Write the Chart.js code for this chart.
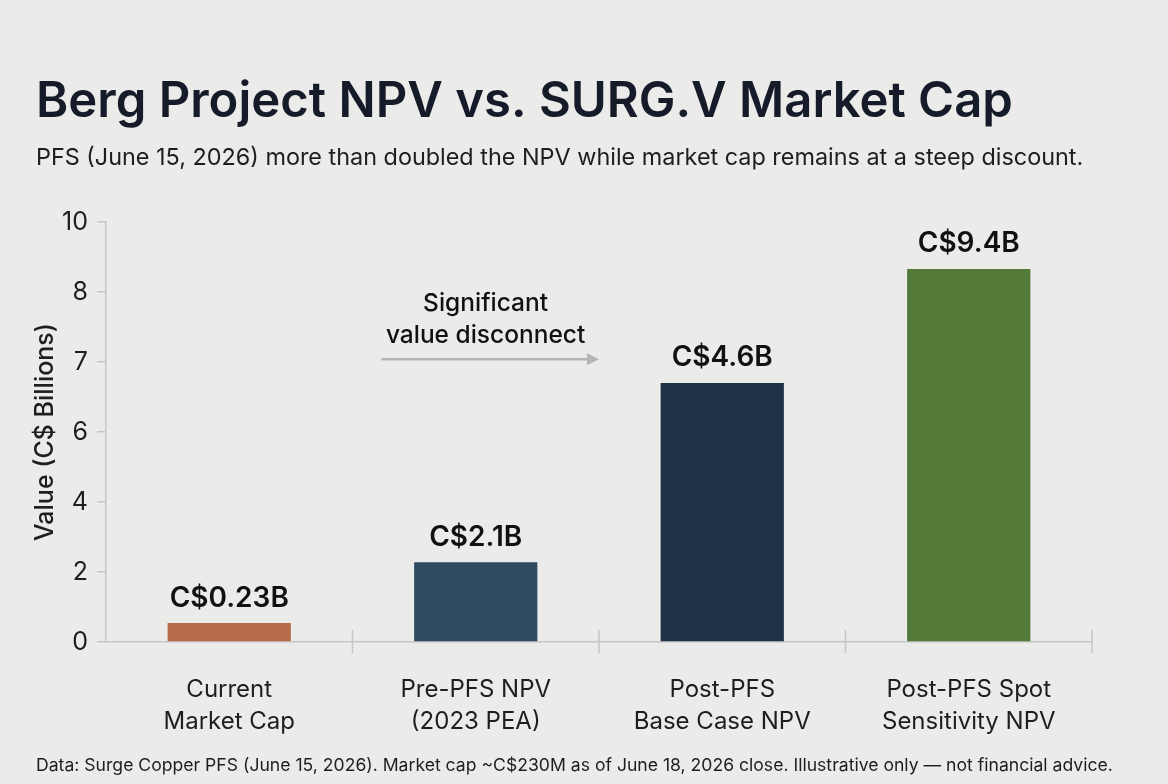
<!DOCTYPE html>
<html>
<head>
<meta charset="utf-8">
<title>Berg Project NPV vs. SURG.V Market Cap</title>
<script src="https://cdn.jsdelivr.net/npm/chart.js@4.4.1/dist/chart.umd.min.js"></script>
<style>
    html, body { margin: 0; padding: 0; background: #ebebea; }
    .chart-container { position: relative; width: 1168px; height: 784px; }
</style>
</head>
<body>
<div class="chart-container"><canvas id="npvChart"></canvas></div>
<script>
// Chart data
const categories = [
    ['Current', 'Market Cap'],
    ['Pre-PFS NPV', '(2023 PEA)'],
    ['Post-PFS', 'Base Case NPV'],
    ['Post-PFS Spot', 'Sensitivity NPV']
];
const valueLabels = ['C$0.23B', 'C$2.1B', 'C$4.6B', 'C$9.4B'];
// bar heights as drawn, in steps of the (unevenly labelled) y axis
const barHeights = [0.27, 1.14, 3.70, 5.33];
const yTickLabels = ['0', '2', '4', '6', '7', '8', '10'];

const titleText = 'Berg Project NPV vs. SURG.V Market Cap';
const subtitleText = 'PFS (June 15, 2026) more than doubled the NPV while market cap remains at a steep discount.';
const footerText = 'Data: Surge Copper PFS (June 15, 2026). Market cap ~C$230M as of June 18, 2026 close. Illustrative only \u2014 not financial advice.';
const noteLines = ['Significant', 'value disconnect'];

const FONT = 'Inter, "Noto Sans", sans-serif';
const AXIS_GREY = '#c6c6c6';

// Title, subtitle and footer text
const headerFooter = {
    id: 'headerFooter',
    beforeDraw(chart) {
        const ctx = chart.ctx;
        ctx.save();
        ctx.textAlign = 'left';
        ctx.textBaseline = 'alphabetic';
        ctx.fillStyle = '#161b2a';
        ctx.font = `600 49px ${FONT}`;
        ctx.fillText(titleText, 36, 117);
        ctx.fillStyle = '#1e1e1e';
        ctx.font = `400 23.4px ${FONT}`;
        ctx.fillText(subtitleText, 36, 165);
        ctx.font = `400 17.6px ${FONT}`;
        ctx.fillText(footerText, 36, 771);
        ctx.restore();
    }
};

// Category separator ticks crossing the x axis
const categoryTicks = {
    id: 'categoryTicks',
    afterDraw(chart) {
        const ctx = chart.ctx;
        const x = chart.scales.x;
        const y0 = chart.chartArea.bottom;
        ctx.save();
        ctx.strokeStyle = AXIS_GREY;
        ctx.lineWidth = 1.5;
        for (let i = 1; i <= categories.length; i++) {
            const px = x.getPixelForValue(i - 0.5);
            ctx.beginPath();
            ctx.moveTo(px, y0 - 12);
            ctx.lineTo(px, y0 + 11);
            ctx.stroke();
        }
        ctx.restore();
    }
};

// Value labels above bars and the annotation arrow
const barAnnotations = {
    id: 'barAnnotations',
    afterDatasetsDraw(chart) {
        const ctx = chart.ctx;
        const meta = chart.getDatasetMeta(0);
        const xs = chart.scales.x;
        const ys = chart.scales.y;
        ctx.save();
        ctx.fillStyle = '#111111';
        ctx.textAlign = 'center';
        ctx.textBaseline = 'middle';
        ctx.font = `600 28px ${FONT}`;
        meta.data.forEach((bar, i) => {
            ctx.fillText(valueLabels[i], bar.x, bar.y - 25);
        });

        ctx.font = `500 24.5px ${FONT}`;
        ctx.fillText(noteLines[0], xs.getPixelForValue(1.04), ys.getPixelForValue(4.84));
        ctx.fillText(noteLines[1], xs.getPixelForValue(1.04), ys.getPixelForValue(4.38));

        const ay = ys.getPixelForValue(4.04);
        const ax1 = xs.getPixelForValue(0.617);
        const ax2 = xs.getPixelForValue(1.5);
        ctx.strokeStyle = '#b5b5b5';
        ctx.fillStyle = '#b5b5b5';
        ctx.lineWidth = 2.5;
        ctx.beginPath();
        ctx.moveTo(ax1, ay);
        ctx.lineTo(ax2 - 10, ay);
        ctx.stroke();
        ctx.beginPath();
        ctx.moveTo(ax2, ay);
        ctx.lineTo(ax2 - 12, ay - 6);
        ctx.lineTo(ax2 - 12, ay + 6);
        ctx.closePath();
        ctx.fill();
        ctx.restore();
    }
};

const ctx = document.getElementById('npvChart').getContext('2d');
new Chart(ctx, {
    type: 'bar',
    data: {
        labels: categories,
        datasets: [{
            data: barHeights,
            backgroundColor: ['#b66b4b', '#2f4b61', '#1f3247', '#537a39'],
            borderWidth: 0,
            barPercentage: 0.5,
            categoryPercentage: 1.0
        }]
    },
    options: {
        responsive: true,
        maintainAspectRatio: false,
        animation: false,
        layout: {
            padding: { top: 222, right: 76, bottom: 42, left: 0 }
        },
        plugins: {
            legend: { display: false },
            tooltip: { enabled: false }
        },
        scales: {
            x: {
                offset: true,
                grid: { display: false, drawTicks: false },
                border: { display: true, color: AXIS_GREY, width: 1.5 },
                ticks: {
                    color: '#1e1e1e',
                    padding: 32,
                    maxRotation: 0,
                    font: { family: FONT, size: 24, lineHeight: 1.34 }
                },
                afterFit(scale) { scale.height = 100; }
            },
            y: {
                min: 0,
                max: 6,
                grid: {
                    display: true,
                    drawOnChartArea: false,
                    drawTicks: true,
                    tickLength: 9,
                    color: AXIS_GREY,
                    lineWidth: 1.5
                },
                border: { display: true, color: AXIS_GREY, width: 1.5 },
                ticks: {
                    stepSize: 1,
                    padding: 9,
                    color: '#1e1e1e',
                    font: { family: FONT, size: 25 },
                    callback: (value) => yTickLabels[value]
                },
                title: {
                    display: true,
                    text: 'Value (C$ Billions)',
                    color: '#1e1e1e',
                    padding: { top: 30, bottom: 0 },
                    font: { family: FONT, size: 25, weight: '500' }
                },
                afterFit(scale) { scale.width = 106; }
            }
        }
    },
    plugins: [headerFooter, categoryTicks, barAnnotations]
});
</script>
</body>
</html>
